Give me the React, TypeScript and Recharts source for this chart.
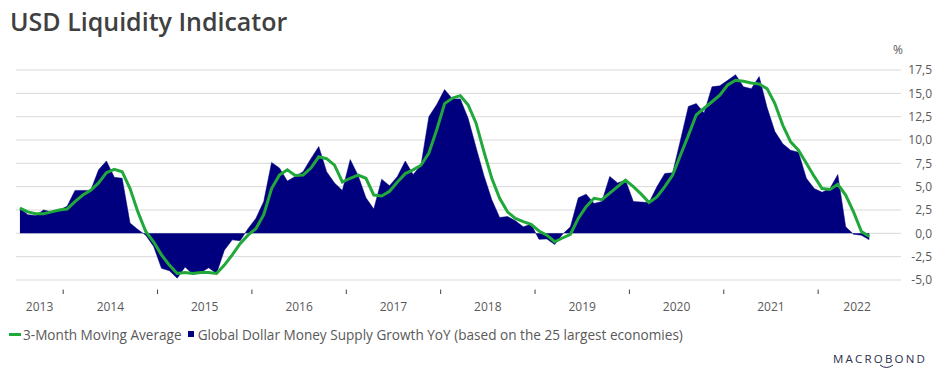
import React from "react";
import { ComposedChart, Area, Line, XAxis, YAxis, CartesianGrid } from "recharts";

const FONT = '"Open Sans", "Noto Sans", sans-serif';
const NAVY = "#00007f";
const GREEN = "#21a83b";
const GRID = "#d9d9d9";
const TEXT = "#595959";

// monthly points, first one is July 2013
const firstYear = 2013;
const firstMonth = 7;

const yearLabels = ["2013", "2014", "2015", "2016", "2017", "2018", "2019", "2020", "2021", "2022"];

// Global Dollar Money Supply Growth YoY, %
const moneySupplyGrowth = [
  2.7, 2.0, 1.9, 2.5, 2.3, 2.5, 2.9, 4.6, 4.6, 4.6, 6.8, 7.75,
  6.0, 5.9, 1.1, 0.4, -0.2, -1.4, -3.75, -4.0, -4.8, -3.6, -4.4, -4.2,
  -3.7, -4.3, -1.8, -0.7, -0.8, 0.5, 1.6, 3.4, 7.6, 7.0, 5.6, 6.1,
  6.6, 8.0, 9.3, 6.6, 5.4, 4.6, 7.9, 6.2, 3.8, 2.6, 5.8, 5.1,
  6.1, 7.75, 6.3, 7.3, 12.5, 13.8, 15.4, 14.4, 14.4, 12.3, 9.2, 6.2,
  3.6, 1.7, 1.8, 1.35, 0.7, 0.96, -0.64, -0.6, -1.2, -0.1, 0.7, 3.8,
  4.2, 3.2, 3.4, 6.1, 5.4, 5.7, 3.4, 3.35, 3.3, 5.0, 6.4, 6.5,
  10.0, 13.6, 13.9, 12.9, 15.7, 15.8, 16.4, 17.0, 15.7, 15.5, 16.8, 13.5,
  10.9, 9.6, 8.9, 8.7, 5.9, 4.8, 4.4, 4.8, 6.3, 0.7, -0.1, -0.2,
  -0.7,
];

// 3-Month Moving Average, %
const movingAverage3m = [
  2.7, 2.3, 2.1, 2.1, 2.3, 2.5, 2.6, 3.4, 4.1, 4.6, 5.4, 6.5,
  6.86, 6.6, 4.8, 2.3, 0.2, -0.9, -2.3, -3.4, -4.3, -4.2, -4.3, -4.2,
  -4.2, -4.3, -3.4, -2.3, -1.1, -0.2, 0.5, 2.0, 4.8, 6.25, 6.8, 6.2,
  6.25, 7.0, 8.2, 8.0, 7.3, 5.5, 5.9, 6.25, 5.9, 4.1, 4.0, 4.5,
  5.5, 6.4, 6.8, 7.3, 8.6, 11.1, 13.9, 14.5, 14.75, 13.75, 11.8, 8.75,
  5.9, 3.75, 2.3, 1.6, 1.25, 0.96, 0.25, -0.2, -0.9, -0.5, -0.1, 1.6,
  2.86, 3.75, 3.6, 4.3, 5.0, 5.7, 5.0, 4.2, 3.3, 3.9, 5.0, 6.25,
  8.4, 10.5, 12.7, 13.4, 14.1, 14.8, 15.9, 16.4, 16.3, 16.1, 16.0, 15.5,
  13.9, 11.6, 9.8, 8.9, 7.5, 6.1, 4.8, 4.7, 5.25, 4.1, 2.3, 0.2,
  -0.35,
];

const valueTicks = [-5, -2.5, 0, 2.5, 5, 7.5, 10, 12.5, 15, 17.5];

// x is months since Jan 2013, points sit mid-month
const X_MIN = 6;
const X_MAX = 117.9;

const data = moneySupplyGrowth.map((v, i) => {
  const m = firstMonth - 1 + i;
  return {
    month: `${firstYear + Math.floor(m / 12)}-${String((m % 12) + 1).padStart(2, "0")}`,
    t: m + 0.5,
    growth: v,
    ma: movingAverage3m[i],
  };
});

const yearBounds = yearLabels.slice(1).map((_, k) => (k + 1) * 12);
const yearMids = new Map<number, string>();
yearLabels.forEach((label, k) => {
  const s = Math.max(X_MIN, k * 12);
  const e = Math.min(X_MAX, k * 12 + 12);
  yearMids.set((s + e) / 2, label);
});
const xTicks = [...yearBounds, ...Array.from(yearMids.keys())].sort((a, b) => a - b);

function YearTick(props: any) {
  const { x, y, payload } = props;
  const label = yearMids.get(payload.value);
  if (label) {
    return (
      <text x={x} y={y + 31} textAnchor="middle" fontSize={12} fill={TEXT} fontFamily={FONT}>
        {label}
      </text>
    );
  }
  return <line x1={x} x2={x} y1={y + 9.5} y2={y + 14} stroke="#404040" strokeWidth={1} />;
}

function ValueTick(props: any) {
  const { x, y, payload } = props;
  return (
    <text x={x + 31} y={y} dy="0.35em" textAnchor="end" fontSize={12} fill={TEXT} fontFamily={FONT}>
      {Number(payload.value).toFixed(1).replace(".", ",")}
    </text>
  );
}

export default function App() {
  return (
    <div style={{ position: "absolute", left: 0, top: 0, width: 939, height: 377, background: "#fff", fontFamily: FONT }}>
      <svg width={939} height={377} style={{ position: "absolute", left: 0, top: 0 }}>
        <text x={10} y={31} fontSize={25} fontWeight={600} fill="#404040" fontFamily={FONT}>
          USD Liquidity Indicator
        </text>
        <text x={898} y={54} fontSize={12} textAnchor="middle" fill={TEXT} fontFamily={FONT}>
          %
        </text>
        <text x={833} y={363} fontSize={11.5} letterSpacing={2.2} fill="#2b2f4e" fontFamily={FONT}>
          MACROBOND
        </text>
        <path d="M 880 365 Q 886.5 370 893 365" fill="none" stroke="#2b2f4e" strokeWidth={1} />
      </svg>
      <div style={{ position: "absolute", left: 0, top: 0 }}>
        <ComposedChart width={939} height={377} data={data} margin={{ top: 70, right: 0, bottom: 57, left: 16 }}>
          <CartesianGrid vertical={false} stroke={GRID} />
          <XAxis
            dataKey="t"
            type="number"
            domain={[X_MIN, X_MAX]}
            allowDataOverflow
            ticks={xTicks}
            interval={0}
            axisLine={false}
            tickLine={false}
            tickSize={0}
            tickMargin={0}
            height={40}
            tick={<YearTick />}
          />
          <YAxis
            orientation="right"
            type="number"
            domain={[-5, 17.5]}
            ticks={valueTicks}
            interval={0}
            width={43}
            axisLine={false}
            tickLine={{ stroke: GRID }}
            tickSize={5}
            tickMargin={0}
            tick={<ValueTick />}
          />
          <Area
            type="linear"
            dataKey="growth"
            baseValue={0}
            fill={NAVY}
            fillOpacity={1}
            stroke={NAVY}
            strokeWidth={0.5}
            dot={false}
            activeDot={false}
            isAnimationActive={false}
          />
          <Line
            type="linear"
            dataKey="ma"
            stroke={GREEN}
            strokeWidth={3}
            dot={false}
            activeDot={false}
            isAnimationActive={false}
          />
        </ComposedChart>
      </div>
      <div
        style={{
          position: "absolute",
          left: 9,
          top: 324,
          height: 20,
          display: "flex",
          alignItems: "center",
          fontSize: 13.6,
          color: TEXT,
          whiteSpace: "nowrap",
        }}
      >
        <span style={{ display: "inline-block", width: 12, height: 3, background: GREEN, marginRight: 2 }} />
        <span>3-Month Moving Average</span>
        <span style={{ display: "inline-block", width: 6, height: 6, background: NAVY, margin: "0 4px 0 6px" }} />
        <span>Global Dollar Money Supply Growth YoY (based on the 25 largest economies)</span>
      </div>
    </div>
  );
}
